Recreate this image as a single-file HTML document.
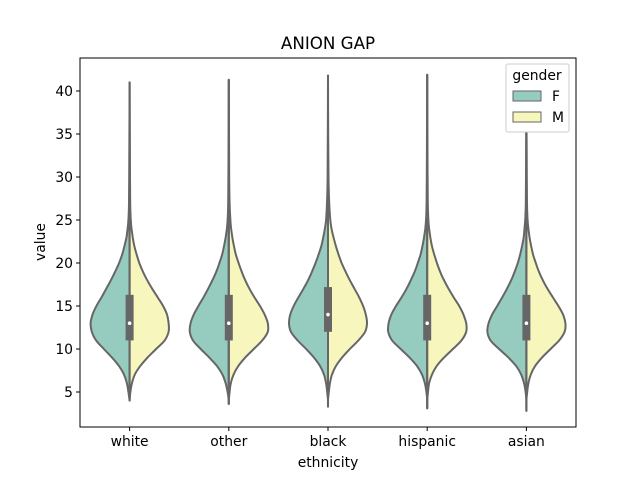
<!DOCTYPE html>
<html><head><meta charset="utf-8"><style>
body{margin:0;background:#fff;font-family:"Liberation Sans","DejaVu Sans",sans-serif}
svg text{font-family:"DejaVu Sans","Liberation Sans",sans-serif;fill:#000}
</style></head><body>
<svg width="640" height="480">
<rect width="640" height="480" fill="#fff"/>
<g id="plot"></g>
<text x="328" y="49" font-size="16.7" text-anchor="middle">ANION GAP</text>
<text x="328" y="467" font-size="13.9" text-anchor="middle">ethnicity</text>
<text x="45" y="242" font-size="13.9" text-anchor="middle" transform="rotate(-90 45 242)">value</text>
<g>
<rect x="506" y="64" width="63" height="68" rx="2" fill="#fff" stroke="#ccc"/>
<text x="537" y="80" font-size="13.9" text-anchor="middle">gender</text>
<rect x="513" y="91" width="28" height="10" fill="#96cbc0" stroke="#666"/>
<text x="552" y="101" font-size="13.9">F</text>
<rect x="513" y="112" width="28" height="10" fill="#f6f6bd" stroke="#666"/>
<text x="552" y="122" font-size="13.9">M</text>
</g>
</svg>
<script>
const categories=["white","other","black","hispanic","asian"];
const grid=[4,5,6,7,8,9,10,11,12,13,14,15,16,17,18,19,20,21,22,23,24,25,27,30,35,42];
const densF=[
[0,.03,.07,.14,.27,.45,.66,.86,.97,1,.95,.85,.72,.6,.48,.37,.27,.19,.13,.08,.05,.03,.015,.01,.005,0],
[0,.03,.08,.16,.3,.5,.72,.92,1,.98,.9,.78,.65,.53,.42,.32,.24,.17,.12,.08,.05,.03,.015,.01,.005,0],
[0,.02,.05,.1,.2,.36,.56,.78,.95,1,.97,.88,.76,.63,.51,.41,.32,.24,.17,.12,.08,.05,.025,.01,.005,0],
[0,.02,.06,.13,.26,.45,.68,.9,1,.99,.92,.8,.66,.53,.42,.32,.24,.17,.12,.08,.05,.03,.015,.01,.005,0],
[0,.02,.06,.13,.26,.46,.7,.92,1,.97,.88,.75,.62,.5,.39,.3,.22,.16,.11,.07,.05,.03,.015,.01,.005,0]];
const densM=[
[0,.02,.06,.13,.27,.46,.68,.9,1,1,.96,.86,.72,.58,.45,.34,.25,.18,.12,.08,.05,.03,.015,.01,.005,0],
[0,.02,.05,.12,.24,.42,.64,.86,1,1,.92,.8,.66,.53,.42,.33,.25,.18,.13,.09,.06,.04,.02,.01,.005,0],
[0,.02,.05,.1,.2,.36,.56,.78,.95,1,.97,.9,.8,.68,.56,.45,.35,.27,.2,.14,.09,.06,.03,.012,.005,0],
[0,.02,.05,.12,.24,.43,.66,.88,1,1,.93,.82,.68,.55,.43,.33,.25,.18,.12,.08,.05,.03,.015,.01,.005,0],
[0,.02,.05,.11,.22,.4,.62,.84,.98,1,.94,.82,.68,.54,.42,.32,.24,.17,.12,.08,.05,.03,.015,.01,.005,0]];
const mins=[4,3.6,3.3,3.1,2.8];
const maxs=[41,41.3,41.8,41.9,40.5];
const q1=[11,11,12,11,11];
const medians=[13,13,14,13,13];
const q3=[16.3,16.3,17.2,16.3,16.3];
const yTicks=[5,10,15,20,25,30,35,40];

const L=80,R=576,T=58,B=427;
const y=v=>392-(v-5)*(392-91)/35;
const xc=i=>L+(R-L)/categories.length*(i+0.5);
const HW=39;
const NS="http://www.w3.org/2000/svg";
const plot=document.getElementById('plot');
function mk(t,a){const e=document.createElementNS(NS,t);for(const k in a)e.setAttribute(k,a[k]);plot.appendChild(e);return e;}

categories.forEach((c,i)=>{
  const cx=xc(i);
  [[densF[i],-1,'#96cbc0','f'],[densM[i],1,'#f6f6bd','m']].forEach(([d,s,col,g])=>{
    let pts=[[cx,y(mins[i])]];
    grid.forEach((v,k)=>{if(v>mins[i]&&v<maxs[i])pts.push([cx+s*d[k]*HW,y(v)]);});
    pts.push([cx,y(maxs[i])]);
    let path='M'+pts[0][0]+','+pts[0][1];
    for(let k=0;k<pts.length-1;k++){
      const p0=pts[Math.max(0,k-1)],p1=pts[k],p2=pts[k+1],p3=pts[Math.min(pts.length-1,k+2)];
      path+=` C${(p1[0]+(p2[0]-p0[0])/6).toFixed(1)},${(p1[1]+(p2[1]-p0[1])/6).toFixed(1)} ${(p2[0]-(p3[0]-p1[0])/6).toFixed(1)},${(p2[1]-(p3[1]-p1[1])/6).toFixed(1)} ${p2[0].toFixed(1)},${p2[1].toFixed(1)}`;
    }
    path+=' Z';
    const e=mk('path',{d:path,fill:col,stroke:'#666','stroke-width':2,'stroke-linejoin':'round'});
    
    
  });
  const w=mk('line',{x1:cx,x2:cx,y1:y(mins[i]),y2:y(maxs[i]),stroke:'#666','stroke-width':2});
  
  
  const b=mk('rect',{x:cx-4,width:8,y:y(q3[i]),height:y(q1[i])-y(q3[i]),fill:'#666'});
  
  
  const m=mk('circle',{cx:cx,cy:y(medians[i]),r:1.8,fill:'#fff'});
  
  
  mk('line',{x1:cx,x2:cx,y1:B,y2:B+4,stroke:'#000'});
  const t=mk('text',{x:cx,y:B+19,'font-size':13.9,'text-anchor':'middle'});
  t.textContent=c;
  
  
});
yTicks.forEach(v=>{
  mk('line',{x1:L-4,x2:L,y1:y(v),y2:y(v),stroke:'#000'});
  const t=mk('text',{x:L-7,y:y(v)+5,'font-size':13.9,'text-anchor':'end'});
  t.textContent=v;
  
  
});
const fr=mk('rect',{x:L,y:T,width:R-L,height:B-T,fill:'none',stroke:'#000','stroke-width':1});


</script>
</body></html>
